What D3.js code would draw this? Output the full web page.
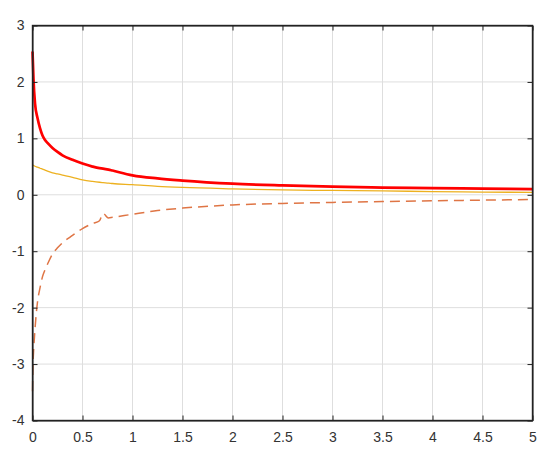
<!DOCTYPE html>
<html>
<head>
<meta charset="utf-8">
<script src="https://cdn.jsdelivr.net/npm/d3@7"></script>
<style>
body { margin: 0; background: #fff; overflow: hidden; }
svg { display: block; }
text { font-family: "Liberation Sans", Arial, sans-serif; }
</style>
</head>
<body>
<div id="chart"></div>
<script>
var w = 550,
	h = 456,
	m = {top: 25, right: 18, bottom: 36, left: 32};

// values
var xVals = [0, 0.005, 0.01, 0.025, 0.05, 0.075, 0.1, 0.125, 0.15, 0.2, 0.25, 0.3, 0.4, 0.5, 0.6, 0.67, 0.705, 0.76, 0.8, 1.0, 1.25, 1.5, 2.0, 2.5, 3.0, 3.5, 4.0, 4.5, 5.0];
var redVals = [2.54, 2.3, 2.05, 1.62, 1.36, 1.18, 1.05, 0.97, 0.92, 0.83, 0.76, 0.70, 0.62, 0.555, 0.50, 0.472, 0.465, 0.447, 0.43, 0.345, 0.29, 0.252, 0.197, 0.166, 0.143, 0.128, 0.118, 0.108, 0.10];
var yellowVals = [0.53, 0.525, 0.52, 0.505, 0.49, 0.47, 0.455, 0.437, 0.42, 0.39, 0.37, 0.35, 0.31, 0.265, 0.237, 0.222, 0.216, 0.208, 0.20, 0.18, 0.15, 0.13, 0.105, 0.086, 0.077, 0.07, 0.056, 0.048, 0.042];
var dashVals = [-3.48, -3.0, -2.8, -2.38, -1.9, -1.65, -1.45, -1.33, -1.23, -1.05, -0.94, -0.85, -0.72, -0.6, -0.51, -0.46, -0.33, -0.41, -0.40, -0.345, -0.28, -0.236, -0.18, -0.153, -0.135, -0.12, -0.106, -0.095, -0.083];
var xTicks = [0, 0.5, 1, 1.5, 2, 2.5, 3, 3.5, 4, 4.5, 5];
var yTicks = [-4, -3, -2, -1, 0, 1, 2, 3];

var pw = w - m.left - m.right,
	ph = h - m.top - m.bottom;

var svg = d3.select('#chart').append('svg')
	.attr('width', w)
	.attr('height', h);

// half pixel shift keeps 1px lines crisp
var g = svg.append('g')
	.attr('transform', 'translate(' + (m.left + 0.5) + ',' + (m.top + 0.5) + ')');

var x = d3.scaleLinear().domain([0, 5]).range([0, pw]);
var y = d3.scaleLinear().domain([-4, 3]).range([ph, 0]);

// grid, inner lines only
g.selectAll('line.vgrid')
	.data(xTicks.slice(1, -1))
	.enter().append('line')
	.attr('class', 'vgrid')
	.attr('x1', x).attr('x2', x)
	.attr('y1', 0).attr('y2', ph)
	.style('stroke', '#dedede');

g.selectAll('line.hgrid')
	.data(yTicks.slice(1, -1))
	.enter().append('line')
	.attr('class', 'hgrid')
	.attr('y1', y).attr('y2', y)
	.attr('x1', 0).attr('x2', pw)
	.style('stroke', '#dedede');

function line(vals) {
	return d3.line()
		.x(function(d, i) { return x(xVals[i]); })
		.y(function(d) { return y(d); })
		.curve(d3.curveMonotoneX)(vals);
}

g.append('path')
	.attr('d', line(yellowVals))
	.style('fill', 'none')
	.style('stroke', '#EDB120')
	.style('stroke-width', 1.3);

g.append('path')
	.attr('d', line(dashVals))
	.style('fill', 'none')
	.style('stroke', '#DF7545')
	.style('stroke-width', 1.5)
	.style('stroke-dasharray', '10,6');

g.append('path')
	.attr('d', line(redVals))
	.style('fill', 'none')
	.style('stroke', '#ff0000')
	.style('stroke-width', 2.7);

// axes, ticks inside on all four sides
var fmt = function(d) { return String(d); };
var none = function() { return ''; };

g.append('g')
	.attr('transform', 'translate(0,' + ph + ')')
	.call(d3.axisBottom(x).tickValues(xTicks).tickFormat(fmt).tickSizeInner(-5).tickSizeOuter(0).tickPadding(12));
g.append('g')
	.call(d3.axisLeft(y).tickValues(yTicks).tickFormat(fmt).tickSizeInner(-5).tickSizeOuter(0).tickPadding(8));
g.append('g')
	.call(d3.axisTop(x).tickValues(xTicks).tickFormat(none).tickSizeInner(-5).tickSizeOuter(0));
g.append('g')
	.attr('transform', 'translate(' + pw + ',0)')
	.call(d3.axisRight(y).tickValues(yTicks).tickFormat(none).tickSizeInner(-5).tickSizeOuter(0));

g.selectAll('.domain, .tick line')
	.attr('stroke', '#222');
g.selectAll('.tick text')
	.style('font-size', '14px')
	.style('fill', '#333');

// box round the plot, drawn last
g.append('rect')
	.attr('width', pw)
	.attr('height', ph)
	.attr('fill', 'none')
	.attr('stroke', '#222')
	.attr('stroke-width', 1.4);
</script>
</body>
</html>
